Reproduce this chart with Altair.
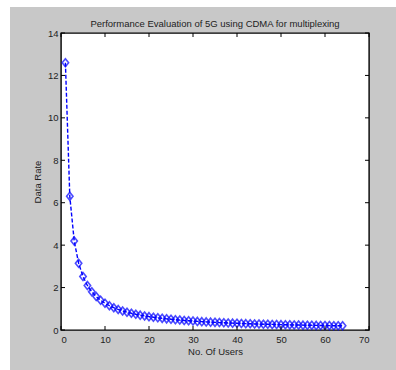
import altair as alt
import pandas as pd

users = list(range(1, 65))
data_rate = [12.6, 6.3, 4.2, 3.15, 2.52, 2.1, 1.8, 1.575, 1.4, 1.26,
             1.145, 1.05, 0.969, 0.9, 0.84, 0.788, 0.741, 0.7, 0.663, 0.63,
             0.6, 0.573, 0.548, 0.525, 0.504, 0.485, 0.467, 0.45, 0.434, 0.42,
             0.406, 0.394, 0.382, 0.371, 0.36, 0.35, 0.341, 0.332, 0.323, 0.315,
             0.307, 0.3, 0.293, 0.286, 0.28, 0.274, 0.268, 0.263, 0.257, 0.252,
             0.247, 0.242, 0.238, 0.233, 0.229, 0.225, 0.221, 0.217, 0.214, 0.21,
             0.207, 0.203, 0.2, 0.197]
x_ticks = [0, 10, 20, 30, 40, 50, 60, 70]
y_ticks = [0, 2, 4, 6, 8, 10, 12, 14]

W, H = 308, 297
FONT = "Liberation Sans"
GRAY = "#c8c8c8"
BLUE = "#0000ff"

df = pd.DataFrame({"users": users, "rate": data_rate})
xt = pd.DataFrame({"t": x_ticks})
yt = pd.DataFrame({"t": y_ticks})

xscale = alt.Scale(domain=[0, 70], nice=False, zero=False)
yscale = alt.Scale(domain=[0, 14], nice=False, zero=False)

x_axis = alt.Axis(title="No. Of Users", values=x_ticks, tickSize=0, domain=False,
                  grid=False, labelFont=FONT, labelFontSize=9.5, labelColor="#222222",
                  labelPadding=4, titleFont=FONT, titleFontSize=9.5,
                  titleFontWeight="normal", titleColor="#222222", titlePadding=3)
y_axis = alt.Axis(title="Data Rate", values=y_ticks, tickSize=0, domain=False,
                  grid=False, labelFont=FONT, labelFontSize=9.5, labelColor="#222222",
                  labelPadding=3, titleFont=FONT, titleFontSize=9.5,
                  titleFontWeight="normal", titleColor="#222222", titlePadding=5)

one = pd.DataFrame({"a": [0]})
strip_left = alt.Chart(one).mark_rect(color="white").encode(
    x=alt.value(-61), x2=alt.value(-51), y=alt.value(-33), y2=alt.value(H + 40))
strip_top = alt.Chart(one).mark_rect(color="white").encode(
    x=alt.value(-61), x2=alt.value(W + 27), y=alt.value(-33), y2=alt.value(-26))

line = alt.Chart(df).mark_line(color=BLUE, strokeWidth=1.4, strokeDash=[4, 2]).encode(
    x=alt.X("users:Q", scale=xscale, axis=x_axis),
    y=alt.Y("rate:Q", scale=yscale, axis=y_axis),
)
pts = alt.Chart(df).mark_point(
    shape="M0,-1L0.8,0L0,1L-0.8,0Z", size=64, filled=False, color=BLUE, strokeWidth=1.6
).encode(
    x=alt.X("users:Q", scale=xscale, axis=x_axis),
    y=alt.Y("rate:Q", scale=yscale, axis=y_axis),
)

tick_len = 4
xb = alt.Chart(xt).mark_rule(color="black", strokeWidth=1).encode(
    x=alt.X("t:Q", scale=xscale, axis=x_axis), y=alt.value(H), y2=alt.value(H - tick_len))
xtp = alt.Chart(xt).mark_rule(color="black", strokeWidth=1).encode(
    x=alt.X("t:Q", scale=xscale, axis=x_axis), y=alt.value(0), y2=alt.value(tick_len))
yl = alt.Chart(yt).mark_rule(color="black", strokeWidth=1).encode(
    y=alt.Y("t:Q", scale=yscale, axis=y_axis), x=alt.value(0), x2=alt.value(tick_len))
yr = alt.Chart(yt).mark_rule(color="black", strokeWidth=1).encode(
    y=alt.Y("t:Q", scale=yscale, axis=y_axis), x=alt.value(W), x2=alt.value(W - tick_len))

chart = alt.layer(strip_left, strip_top, line, pts, xb, xtp, yl, yr).properties(
    width=W, height=H,
    title=alt.TitleParams("Performance Evaluation of 5G using CDMA for multiplexing",
                          font=FONT, fontSize=9.5, fontWeight="normal", color="#222222",
                          anchor="middle", frame="group", offset=0, dy=28),
    autosize=alt.AutoSizeParams(type="none"),
    padding={"left": 61, "top": 33, "right": 27, "bottom": 40},
    background=GRAY,
).configure_view(stroke="black", strokeWidth=1.4, fill="white")

chart.save("out.html", embed_options={"renderer": "svg", "actions": False})
